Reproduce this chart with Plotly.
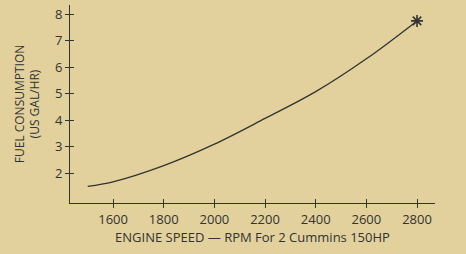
import plotly.graph_objects as go

rpm = [1500, 1600, 1800, 2000, 2200, 2400, 2600, 2800]
fuel = [1.5, 1.67, 2.28, 3.09, 4.06, 5.07, 6.31, 7.74]
max_rpm = [2800]
max_fuel = [7.74]
x_ticks = [1600, 1800, 2000, 2200, 2400, 2600, 2800]
y_ticks = [2, 3, 4, 5, 6, 7, 8]

BG = "#E2D19C"
INK = "#333333"
FONT = "Open Sans, Lato, sans-serif"
XR = [1430, 2871]
YR = [0.87, 8.34]

fig = go.Figure()
fig.add_trace(go.Scatter(x=rpm, y=fuel, mode="lines",
                         line=dict(color=INK, width=1.3, shape="spline"),
                         hoverinfo="skip", showlegend=False))
fig.add_trace(go.Scatter(x=max_rpm, y=max_fuel, mode="markers",
                         marker=dict(symbol="asterisk-open", size=10, color=INK,
                                     line=dict(color=INK, width=1.6)),
                         showlegend=False))
# invisible trace to activate overlay axes for crossing ticks
fig.add_trace(go.Scatter(x=max_rpm, y=max_fuel, xaxis="x2", yaxis="y2",
                         mode="markers", marker=dict(opacity=0),
                         hoverinfo="skip", showlegend=False))

axis_common = dict(showgrid=False, zeroline=False, showline=True,
                   linecolor=INK, linewidth=1, tickcolor=INK, tickwidth=1,
                   ticklen=4, automargin=False)

fig.update_layout(
    width=466, height=254,
    margin=dict(l=70, r=31, t=5, b=51),
    paper_bgcolor=BG, plot_bgcolor=BG,
    font=dict(family=FONT, color=INK, size=13),
    xaxis=dict(range=XR, tickvals=x_ticks, ticks="outside",
               title=dict(text="ENGINE SPEED — RPM For 2 Cummins 150HP",
                          font=dict(size=13), standoff=3),
               tickfont=dict(size=13), **axis_common),
    yaxis=dict(range=YR, tickvals=y_ticks, ticks="outside",
               title=dict(text="FUEL CONSUMPTION<br>(US GAL/HR)",
                          font=dict(size=12), standoff=12),
               tickfont=dict(size=13), **axis_common),
    xaxis2=dict(range=XR, tickvals=x_ticks, ticks="inside", overlaying="x",
                anchor="y", side="bottom", showticklabels=False,
                **axis_common),
    yaxis2=dict(range=YR, tickvals=y_ticks, ticks="inside", overlaying="y",
                anchor="x", side="left", showticklabels=False,
                **axis_common),
)

fig.write_html("out.html", config={"displayModeBar": False},
               post_script="document.body.style.margin='0';document.body.style.background='%s';" % BG)
